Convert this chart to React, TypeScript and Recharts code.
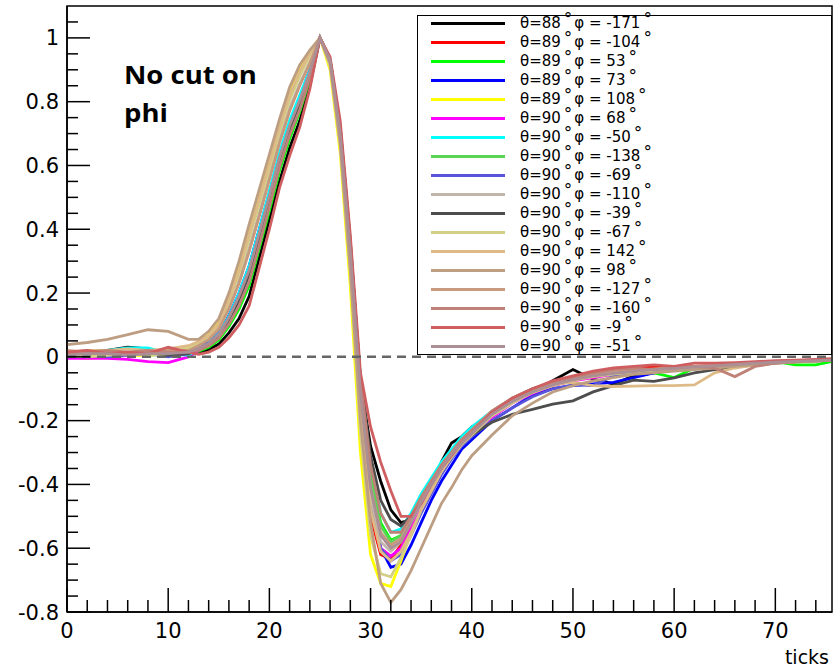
import React from 'react';
import { LineChart, Line, XAxis, YAxis, ReferenceLine, ReferenceArea } from 'recharts';

// sample positions (ticks)
const X = [0, 2, 4, 6, 8, 10, 12,
  13, 14, 15, 16, 17, 18, 19, 20, 21, 22, 23, 24, 25,
  26, 27, 28,
  29, 30, 31, 32, 33, 34, 35, 36, 37, 38, 39, 40,
  42, 44, 46, 48, 50, 52, 54, 56, 58, 60, 62, 64, 66, 68, 70, 72, 74, 75.5];

const TICKS_X = [0, 2, 4, 6, 8, 10, 12, 14, 16, 18, 20, 22, 24, 26, 28, 30, 32, 34, 36, 38, 40, 42, 44, 46, 48, 50, 52, 54, 56, 58, 60, 62, 64, 66, 68, 70, 72, 74];
const TICKS_Y = [-0.8, -0.75, -0.7, -0.65, -0.6, -0.55, -0.5, -0.45, -0.4, -0.35, -0.3, -0.25, -0.2, -0.15, -0.1, -0.05, 0, 0.05, 0.1, 0.15, 0.2, 0.25, 0.3, 0.35, 0.4, 0.45, 0.5, 0.55, 0.6, 0.65, 0.7, 0.75, 0.8, 0.85, 0.9, 0.95, 1, 1.05];

const THETA = [88, 89, 89, 89, 89, 90, 90, 90, 90, 90, 90, 90, 90, 90, 90, 90, 90, 90];
const PHI = [-171, -104, 53, 73, 108, 68, -50, -138, -69, -110, -39, -67, 142, 98, -127, -160, -9, -51];
const COLORS = ['#000000', '#ff0000', '#00ff00', '#0000ff', '#ffff00', '#ff00ff', '#00ffff', '#59d454', '#5954d9',
  '#c0b6ac', '#4d4d4d', '#d4cf87', '#deba87', '#bd9e82', '#c7997d', '#bf8278', '#cf5e61', '#ab8f94'];

const S_M171 = [0.01, 0.01, 0.02, 0.03, 0.025, 0.01, 0.015,
  0.01, 0.022, 0.04, 0.075, 0.12, 0.19, 0.31, 0.43, 0.55, 0.655, 0.74, 0.85, 1.0,
  0.93, 0.72, 0.36,
  -0.08, -0.28, -0.39, -0.48, -0.52, -0.51, -0.47, -0.41, -0.33, -0.27, -0.25, -0.22,
  -0.18, -0.14, -0.11, -0.075, -0.04, -0.07, -0.085, -0.06, -0.05, -0.04, -0.035, -0.03, -0.025, -0.02, -0.018, -0.014, -0.012, -0.01];
const S_M104 = [0.005, 0.0, 0.01, 0.005, 0.01, 0.005, 0.02,
  0.045, 0.066, 0.104, 0.18, 0.275, 0.39, 0.5, 0.61, 0.72, 0.82, 0.9, 0.955, 1.0,
  0.92, 0.68, 0.3,
  -0.17, -0.5, -0.62, -0.635, -0.59, -0.52, -0.45, -0.39, -0.34, -0.3, -0.265, -0.235,
  -0.185, -0.14, -0.11, -0.085, -0.07, -0.055, -0.05, -0.04, -0.03, -0.035, -0.03, -0.028, -0.022, -0.02, -0.016, -0.013, -0.01, -0.01];
const S_P53 = [0.0, 0.005, 0.01, 0.01, 0.005, 0.01, 0.01,
  0.017, 0.03, 0.053, 0.095, 0.15, 0.223, 0.34, 0.458, 0.583, 0.683, 0.768, 0.87, 1.0,
  0.93, 0.71, 0.35,
  -0.08, -0.36, -0.52, -0.575, -0.56, -0.5, -0.44, -0.39, -0.34, -0.3, -0.26, -0.23,
  -0.18, -0.13, -0.105, -0.085, -0.07, -0.06, -0.055, -0.05, -0.05, -0.065, -0.035, -0.03, -0.025, -0.02, -0.015, -0.025, -0.025, -0.015];
const S_P73 = [0.005, 0.005, 0.01, 0.01, 0.015, 0.01, 0.02,
  0.035, 0.045, 0.075, 0.13, 0.2, 0.285, 0.4, 0.515, 0.635, 0.735, 0.815, 0.9, 1.0,
  0.93, 0.7, 0.33,
  -0.1, -0.43, -0.6, -0.66, -0.65, -0.59, -0.52, -0.45, -0.39, -0.34, -0.29, -0.26,
  -0.2, -0.16, -0.12, -0.1, -0.09, -0.085, -0.08, -0.065, -0.05, -0.04, -0.035, -0.03, -0.025, -0.02, -0.017, -0.014, -0.012, -0.01];
const S_P108 = [0.0, -0.005, 0.0, 0.005, 0.005, 0.01, 0.025,
  0.048, 0.068, 0.108, 0.185, 0.285, 0.4, 0.51, 0.62, 0.735, 0.835, 0.905, 0.958, 1.0,
  0.9, 0.64, 0.22,
  -0.3, -0.62, -0.71, -0.72, -0.64, -0.55, -0.46, -0.39, -0.34, -0.3, -0.265, -0.235,
  -0.18, -0.14, -0.11, -0.09, -0.075, -0.06, -0.055, -0.05, -0.045, -0.04, -0.035, -0.03, -0.026, -0.022, -0.018, -0.015, -0.012, -0.01];
const S_P68 = [-0.005, -0.005, -0.005, -0.008, -0.015, -0.018, 0.0,
  0.02, 0.04, 0.07, 0.125, 0.195, 0.28, 0.39, 0.51, 0.63, 0.73, 0.81, 0.9, 1.0,
  0.93, 0.69, 0.31,
  -0.12, -0.45, -0.6, -0.625, -0.6, -0.54, -0.47, -0.41, -0.36, -0.31, -0.27, -0.24,
  -0.19, -0.145, -0.115, -0.09, -0.075, -0.065, -0.055, -0.05, -0.045, -0.04, -0.034, -0.03, -0.025, -0.02, -0.017, -0.015, -0.012, -0.01];
const S_M50 = [0.0, 0.005, 0.02, 0.028, 0.028, 0.01, 0.005,
  0.025, 0.043, 0.073, 0.128, 0.2, 0.285, 0.4, 0.52, 0.64, 0.74, 0.82, 0.9, 1.0,
  0.93, 0.72, 0.35,
  -0.07, -0.33, -0.49, -0.55, -0.54, -0.49, -0.43, -0.38, -0.33, -0.29, -0.25, -0.22,
  -0.17, -0.13, -0.1, -0.08, -0.065, -0.055, -0.05, -0.045, -0.04, -0.036, -0.032, -0.028, -0.024, -0.02, -0.016, -0.013, -0.011, -0.01];
const S_M138 = [0.005, 0.01, 0.005, 0.01, 0.01, 0.005, 0.01,
  0.024, 0.039, 0.066, 0.116, 0.18, 0.26, 0.375, 0.49, 0.61, 0.71, 0.795, 0.89, 1.0,
  0.93, 0.71, 0.34,
  -0.09, -0.38, -0.53, -0.58, -0.56, -0.5, -0.44, -0.39, -0.34, -0.3, -0.26, -0.23,
  -0.17, -0.135, -0.105, -0.085, -0.07, -0.06, -0.052, -0.046, -0.04, -0.036, -0.032, -0.028, -0.024, -0.02, -0.017, -0.014, -0.012, -0.01];
const S_M69 = [0.01, 0.005, 0.0, 0.005, 0.01, 0.0, 0.01,
  0.026, 0.042, 0.07, 0.122, 0.19, 0.27, 0.385, 0.5, 0.62, 0.72, 0.8, 0.89, 1.0,
  0.93, 0.7, 0.32,
  -0.14, -0.45, -0.6, -0.64, -0.62, -0.56, -0.49, -0.43, -0.37, -0.32, -0.28, -0.25,
  -0.2, -0.16, -0.125, -0.1, -0.088, -0.09, -0.06, -0.05, -0.045, -0.04, -0.035, -0.03, -0.025, -0.02, -0.017, -0.014, -0.012, -0.01];
const S_M110 = [0.01, 0.015, 0.01, 0.01, 0.015, 0.01, 0.02,
  0.037, 0.056, 0.09, 0.155, 0.238, 0.34, 0.45, 0.565, 0.68, 0.78, 0.856, 0.925, 1.0,
  0.92, 0.69, 0.31,
  -0.13, -0.44, -0.58, -0.61, -0.58, -0.52, -0.46, -0.4, -0.35, -0.31, -0.27, -0.24,
  -0.18, -0.14, -0.11, -0.088, -0.072, -0.06, -0.052, -0.046, -0.04, -0.036, -0.032, -0.028, -0.024, -0.02, -0.017, -0.014, -0.012, -0.01];
const S_M39 = [0.0, 0.01, 0.015, 0.01, 0.01, 0.005, 0.01,
  0.022, 0.038, 0.065, 0.115, 0.178, 0.258, 0.372, 0.49, 0.61, 0.71, 0.795, 0.885, 1.0,
  0.93, 0.71, 0.35,
  -0.07, -0.31, -0.45, -0.51, -0.53, -0.5, -0.45, -0.4, -0.35, -0.31, -0.27, -0.245,
  -0.205, -0.18, -0.165, -0.148, -0.138, -0.11, -0.09, -0.073, -0.077, -0.066, -0.05, -0.04, -0.032, -0.025, -0.02, -0.016, -0.013, -0.01];
const S_M67 = [0.005, 0.0, 0.005, 0.01, 0.005, 0.01, 0.03,
  0.045, 0.064, 0.1, 0.172, 0.26, 0.37, 0.48, 0.59, 0.705, 0.805, 0.88, 0.945, 1.0,
  0.91, 0.66, 0.26,
  -0.24, -0.56, -0.68, -0.69, -0.63, -0.56, -0.48, -0.42, -0.36, -0.315, -0.275, -0.245,
  -0.185, -0.145, -0.112, -0.09, -0.074, -0.062, -0.054, -0.048, -0.042, -0.038, -0.034, -0.03, -0.026, -0.022, -0.018, -0.015, -0.012, -0.01];
const S_P142 = [0.015, 0.02, 0.02, 0.025, 0.02, 0.025, 0.035,
  0.048, 0.067, 0.104, 0.178, 0.27, 0.385, 0.495, 0.605, 0.72, 0.82, 0.895, 0.95, 1.0,
  0.92, 0.67, 0.28,
  -0.17, -0.48, -0.61, -0.64, -0.61, -0.55, -0.48, -0.42, -0.36, -0.31, -0.27, -0.235,
  -0.17, -0.13, -0.1, -0.085, -0.08, -0.09, -0.093, -0.092, -0.09, -0.09, -0.088, -0.05, -0.035, -0.025, -0.02, -0.016, -0.013, -0.01];
const S_P98 = [0.038, 0.045, 0.055, 0.07, 0.085, 0.08, 0.055,
  0.055, 0.08, 0.12, 0.2, 0.3, 0.415, 0.525, 0.635, 0.745, 0.845, 0.915, 0.962, 1.0,
  0.92, 0.67, 0.27,
  -0.2, -0.52, -0.71, -0.77, -0.73, -0.67, -0.6, -0.53, -0.46, -0.41, -0.355, -0.31,
  -0.245, -0.185, -0.145, -0.11, -0.09, -0.075, -0.065, -0.055, -0.05, -0.045, -0.04, -0.035, -0.03, -0.025, -0.02, -0.016, -0.013, -0.01];
const S_M127 = [0.02, 0.015, 0.015, 0.01, 0.015, 0.02, 0.02,
  0.035, 0.054, 0.087, 0.15, 0.23, 0.33, 0.44, 0.555, 0.67, 0.77, 0.85, 0.92, 1.0,
  0.93, 0.7, 0.33,
  -0.11, -0.41, -0.55, -0.59, -0.57, -0.51, -0.45, -0.39, -0.34, -0.3, -0.26, -0.23,
  -0.17, -0.13, -0.1, -0.08, -0.065, -0.055, -0.048, -0.042, -0.038, -0.034, -0.03, -0.026, -0.022, -0.018, -0.015, -0.012, -0.01, -0.008];
const S_M160 = [0.01, 0.015, 0.02, 0.015, 0.02, 0.015, 0.015,
  0.02, 0.034, 0.058, 0.102, 0.16, 0.235, 0.35, 0.47, 0.595, 0.695, 0.775, 0.875, 1.0,
  0.93, 0.72, 0.36,
  -0.07, -0.34, -0.49, -0.55, -0.55, -0.5, -0.44, -0.39, -0.34, -0.3, -0.26, -0.23,
  -0.17, -0.13, -0.1, -0.08, -0.065, -0.05, -0.04, -0.035, -0.04, -0.035, -0.03, -0.035, -0.062, -0.03, -0.02, -0.015, -0.012, -0.01];
const S_M9 = [0.015, 0.02, 0.01, 0.015, 0.01, 0.03, 0.015,
  0.008, 0.015, 0.03, 0.06, 0.1, 0.16, 0.28, 0.4, 0.53, 0.63, 0.72, 0.84, 1.0,
  0.94, 0.74, 0.38,
  -0.05, -0.22, -0.33, -0.42, -0.5, -0.5, -0.46, -0.4, -0.35, -0.31, -0.27, -0.24,
  -0.175, -0.13, -0.1, -0.075, -0.06, -0.045, -0.035, -0.03, -0.025, -0.03, -0.02, -0.02, -0.018, -0.015, -0.012, -0.01, -0.008, -0.006];
const S_M51 = [0.005, 0.01, 0.01, 0.005, 0.01, 0.01, 0.015,
  0.026, 0.042, 0.07, 0.122, 0.19, 0.272, 0.388, 0.505, 0.625, 0.725, 0.805, 0.893, 1.0,
  0.93, 0.7, 0.33,
  -0.11, -0.41, -0.56, -0.6, -0.58, -0.52, -0.455, -0.4, -0.35, -0.305, -0.27, -0.24,
  -0.18, -0.14, -0.11, -0.088, -0.072, -0.06, -0.052, -0.046, -0.04, -0.036, -0.032, -0.028, -0.024, -0.02, -0.017, -0.014, -0.012, -0.01];

const SERIES = [S_M171, S_M104, S_P53, S_P73, S_P108, S_P68, S_M50, S_M138, S_M69,
  S_M110, S_M39, S_M67, S_P142, S_P98, S_M127, S_M160, S_M9, S_M51];

const DATA = X.map((x, i) => {
  const row: Record<string, number> = { x };
  SERIES.forEach((s, k) => { row['s' + k] = s[i]; });
  return row;
});

const AXIS_FONT = '"DejaVu Sans", sans-serif';

const isMajorY = (v: number) => Math.abs(v * 5 - Math.round(v * 5)) < 1e-6;
const isMajorX = (v: number) => Math.abs(v / 10 - Math.round(v / 10)) < 1e-6;

function YTick(props: any) {
  const { x, y, payload } = props;
  const v = payload.value as number;
  const major = isMajorY(v);
  const len = major ? 23 : 11;
  return (
    <g>
      <line x1={x} y1={y} x2={x + len} y2={y} stroke="#000" strokeWidth={1.5} />
      {major && (
        <text x={x - 8} y={y} dy={7.5} textAnchor="end" fontSize={21} fontFamily={AXIS_FONT} fill="#000">
          {String(Number(v.toFixed(1)))}
        </text>
      )}
    </g>
  );
}

function XTick(props: any) {
  const { x, y, payload } = props;
  const v = payload.value as number;
  const major = isMajorX(v);
  const len = major ? 24 : 12;
  return (
    <g>
      <line x1={x} y1={y} x2={x} y2={y - len} stroke="#000" strokeWidth={1.5} />
      {major && (
        <text x={x} y={y + 26} textAnchor="middle" fontSize={21} fontFamily={AXIS_FONT} fill="#000">
          {String(v)}
        </text>
      )}
    </g>
  );
}

const DEG_STYLE: React.CSSProperties = {
  display: 'inline-block', fontSize: 17, lineHeight: '10px', height: 10, verticalAlign: 'top',
  marginLeft: 3, marginRight: 2,
};

function LegendBox() {
  return (
    <div style={{
      position: 'absolute', left: 417, top: 15, width: 415, height: 340, boxSizing: 'border-box',
      border: '1.5px solid #000', background: '#fff', fontFamily: AXIS_FONT, fontSize: 15, color: '#000',
    }}>
      {PHI.map((p, k) => (
        <div key={k} style={{ position: 'absolute', left: 0, top: 7.7 + 19 * k - 9.5, height: 19, width: '100%' }}>
          <div style={{ position: 'absolute', left: 13, top: 8, width: 74, height: 3, background: COLORS[k] }} />
          <div style={{ position: 'absolute', left: 102, top: 0, height: 19, lineHeight: '19px', whiteSpace: 'pre' }}>
            <span>{'θ=' + THETA[k]}</span>
            <span style={DEG_STYLE}>°</span>
            <span>{'φ = ' + p}</span>
            <span style={DEG_STYLE}>°</span>
          </div>
        </div>
      ))}
    </div>
  );
}

export default function App() {
  return (
    <div style={{ position: 'absolute', left: 0, top: 0, width: 834, height: 667, background: '#fff' }}>
      <LineChart width={834} height={667} data={DATA} margin={{ top: 6, right: 2, left: 0, bottom: 0 }}>
        <XAxis
          dataKey="x" type="number" domain={[0, 75.6]} ticks={TICKS_X} interval={0}
          tickSize={0} tickMargin={0} tickLine={false} tick={<XTick />} height={55}
          axisLine={{ stroke: '#000', strokeWidth: 1.5 }} allowDataOverflow
          label={{ value: 'ticks', position: 'insideBottomRight', offset: 3, fontSize: 19, fontFamily: AXIS_FONT, fill: '#000' }}
        />
        <YAxis
          type="number" domain={[-0.8, 1.1]} ticks={TICKS_Y} interval={0} width={67}
          tickSize={0} tickMargin={0} tickLine={false} tick={<YTick />}
          axisLine={{ stroke: '#000', strokeWidth: 1.5 }} allowDataOverflow
        />
        <ReferenceArea x1={0} x2={75.6} y1={-0.8} y2={1.1} fill="none" fillOpacity={0} stroke="#000" strokeWidth={1.5} ifOverflow="visible" />
        {SERIES.map((_, k) => (
          <Line key={k} dataKey={'s' + k} type="linear" stroke={COLORS[k]} strokeWidth={2.8} dot={false}
            activeDot={false} isAnimationActive={false} />
        ))}
        <ReferenceLine y={0} stroke="#666" strokeDasharray="9 6" strokeWidth={2.5} />
      </LineChart>
      <LegendBox />
      <div style={{
        position: 'absolute', left: 124, top: 55, fontFamily: '"Open Sans", sans-serif', fontWeight: 700,
        fontSize: 25, lineHeight: '38px', color: '#000', transform: 'scaleX(1.1)', transformOrigin: 'left top',
      }}>
        No cut on<br />phi
      </div>
    </div>
  );
}
